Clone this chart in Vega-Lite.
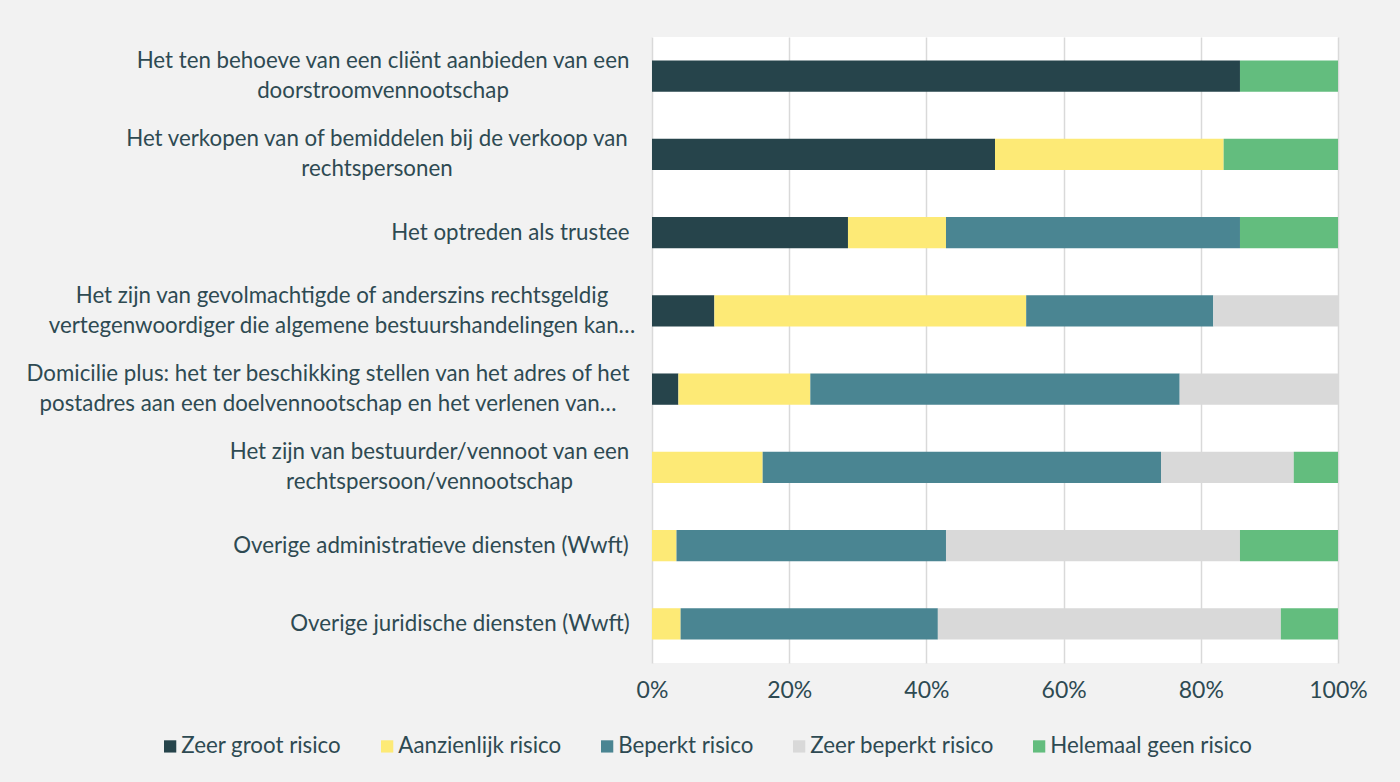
{
  "$schema": "https://vega.github.io/schema/vega-lite/v6.json",
  "width": 686,
  "height": 626,
  "autosize": "none",
  "padding": {"left": 652, "top": 37, "right": 62, "bottom": 119},
  "background": "#F2F2F2",
  "config": {"view": {"fill": "#FFFFFF", "stroke": null}, "font": "Lato"},
  "data": {"values": [
    {"activiteit": "Het ten behoeve van een cliënt aanbieden van een|doorstroomvennootschap", "risico": "Zeer groot risico", "k": 1, "aandeel": 85.71},
    {"activiteit": "Het ten behoeve van een cliënt aanbieden van een|doorstroomvennootschap", "risico": "Helemaal geen risico", "k": 5, "aandeel": 14.29},
    {"activiteit": "Het verkopen van of bemiddelen bij de verkoop van|rechtspersonen", "risico": "Zeer groot risico", "k": 1, "aandeel": 50.0},
    {"activiteit": "Het verkopen van of bemiddelen bij de verkoop van|rechtspersonen", "risico": "Aanzienlijk risico", "k": 2, "aandeel": 33.33},
    {"activiteit": "Het verkopen van of bemiddelen bij de verkoop van|rechtspersonen", "risico": "Helemaal geen risico", "k": 5, "aandeel": 16.67},
    {"activiteit": "Het optreden als trustee", "risico": "Zeer groot risico", "k": 1, "aandeel": 28.57},
    {"activiteit": "Het optreden als trustee", "risico": "Aanzienlijk risico", "k": 2, "aandeel": 14.29},
    {"activiteit": "Het optreden als trustee", "risico": "Beperkt risico", "k": 3, "aandeel": 42.86},
    {"activiteit": "Het optreden als trustee", "risico": "Helemaal geen risico", "k": 5, "aandeel": 14.29},
    {"activiteit": "Het zijn van gevolmachtigde of anderszins rechtsgeldig|vertegenwoordiger die algemene bestuurshandelingen kan…", "risico": "Zeer groot risico", "k": 1, "aandeel": 9.09},
    {"activiteit": "Het zijn van gevolmachtigde of anderszins rechtsgeldig|vertegenwoordiger die algemene bestuurshandelingen kan…", "risico": "Aanzienlijk risico", "k": 2, "aandeel": 45.45},
    {"activiteit": "Het zijn van gevolmachtigde of anderszins rechtsgeldig|vertegenwoordiger die algemene bestuurshandelingen kan…", "risico": "Beperkt risico", "k": 3, "aandeel": 27.27},
    {"activiteit": "Het zijn van gevolmachtigde of anderszins rechtsgeldig|vertegenwoordiger die algemene bestuurshandelingen kan…", "risico": "Zeer beperkt risico", "k": 4, "aandeel": 18.18},
    {"activiteit": "Domicilie plus: het ter beschikking stellen van het adres of het|postadres aan een doelvennootschap en het verlenen van…", "risico": "Zeer groot risico", "k": 1, "aandeel": 3.85},
    {"activiteit": "Domicilie plus: het ter beschikking stellen van het adres of het|postadres aan een doelvennootschap en het verlenen van…", "risico": "Aanzienlijk risico", "k": 2, "aandeel": 19.23},
    {"activiteit": "Domicilie plus: het ter beschikking stellen van het adres of het|postadres aan een doelvennootschap en het verlenen van…", "risico": "Beperkt risico", "k": 3, "aandeel": 53.85},
    {"activiteit": "Domicilie plus: het ter beschikking stellen van het adres of het|postadres aan een doelvennootschap en het verlenen van…", "risico": "Zeer beperkt risico", "k": 4, "aandeel": 23.08},
    {"activiteit": "Het zijn van bestuurder/vennoot van een|rechtspersoon/vennootschap", "risico": "Aanzienlijk risico", "k": 2, "aandeel": 16.13},
    {"activiteit": "Het zijn van bestuurder/vennoot van een|rechtspersoon/vennootschap", "risico": "Beperkt risico", "k": 3, "aandeel": 58.06},
    {"activiteit": "Het zijn van bestuurder/vennoot van een|rechtspersoon/vennootschap", "risico": "Zeer beperkt risico", "k": 4, "aandeel": 19.35},
    {"activiteit": "Het zijn van bestuurder/vennoot van een|rechtspersoon/vennootschap", "risico": "Helemaal geen risico", "k": 5, "aandeel": 6.45},
    {"activiteit": "Overige administratieve diensten (Wwft)", "risico": "Aanzienlijk risico", "k": 2, "aandeel": 3.57},
    {"activiteit": "Overige administratieve diensten (Wwft)", "risico": "Beperkt risico", "k": 3, "aandeel": 39.29},
    {"activiteit": "Overige administratieve diensten (Wwft)", "risico": "Zeer beperkt risico", "k": 4, "aandeel": 42.86},
    {"activiteit": "Overige administratieve diensten (Wwft)", "risico": "Helemaal geen risico", "k": 5, "aandeel": 14.29},
    {"activiteit": "Overige juridische diensten (Wwft)", "risico": "Aanzienlijk risico", "k": 2, "aandeel": 4.17},
    {"activiteit": "Overige juridische diensten (Wwft)", "risico": "Beperkt risico", "k": 3, "aandeel": 37.5},
    {"activiteit": "Overige juridische diensten (Wwft)", "risico": "Zeer beperkt risico", "k": 4, "aandeel": 50.0},
    {"activiteit": "Overige juridische diensten (Wwft)", "risico": "Helemaal geen risico", "k": 5, "aandeel": 8.33}
  ]},
  "mark": {"type": "bar"},
  "encoding": {
    "y": {
      "field": "activiteit",
      "type": "nominal",
      "sort": null,
      "scale": {"paddingInner": 0.6, "paddingOuter": 0.3},
      "axis": {
        "title": null,
        "domain": false,
        "ticks": false,
        "labelExpr": "split(datum.label, '|')",
        "labelFontSize": 22.3,
        "labelColor": "#2E4A52",
        "labelLineHeight": 30,
        "labelLimit": 0,
        "labelAlign": "center",
        "labelOffset": {
          "condition": {"test": "indexof(datum.value, '|') >= 0", "value": -15},
          "value": 0
        },
        "labelPadding": {
          "condition": [
            {"test": "indexof(datum.value, 'Het ten') == 0", "value": 269.5},
            {"test": "indexof(datum.value, 'Het verkopen') == 0", "value": 275.5},
            {"test": "indexof(datum.value, 'Het optreden') == 0", "value": 142},
            {"test": "indexof(datum.value, 'Het zijn van gevolmachtigde') == 0", "value": 310.5},
            {"test": "indexof(datum.value, 'Domicilie') == 0", "value": 324.5},
            {"test": "indexof(datum.value, 'Het zijn van bestuurder') == 0", "value": 223},
            {"test": "indexof(datum.value, 'Overige administratieve') == 0", "value": 221.5}
          ],
          "value": 192.5
        }
      }
    },
    "x": {
      "field": "aandeel",
      "type": "quantitative",
      "stack": "normalize",
      "scale": {"domain": [0, 1]},
      "axis": {
        "title": null,
        "domain": false,
        "ticks": false,
        "values": [0, 0.2, 0.4, 0.6, 0.8, 1],
        "format": ".0%",
        "grid": true,
        "gridColor": "#D9D9D9",
        "gridWidth": 1.5,
        "labelFontSize": 23,
        "labelColor": "#2E4A52",
        "labelPadding": 16,
        "labelFlush": false
      }
    },
    "color": {
      "field": "risico",
      "type": "nominal",
      "scale": {
        "domain": ["Zeer groot risico", "Aanzienlijk risico", "Beperkt risico", "Zeer beperkt risico", "Helemaal geen risico"],
        "range": ["#26444B", "#FDEA76", "#4A8592", "#D9D9D9", "#63BD7E"]
      },
      "legend": {
        "title": null,
        "orient": "none",
        "legendX": -493,
        "legendY": 698,
        "direction": "horizontal",
        "symbolType": "square",
        "symbolSize": 150,
        "symbolStrokeWidth": 0,
        "labelFontSize": 22.3,
        "labelColor": "#2E4A52",
        "labelLimit": 0,
        "labelOffset": 0,
        "columnPadding": 34
      }
    },
    "order": {"field": "k", "type": "quantitative", "sort": "ascending"}
  }
}
